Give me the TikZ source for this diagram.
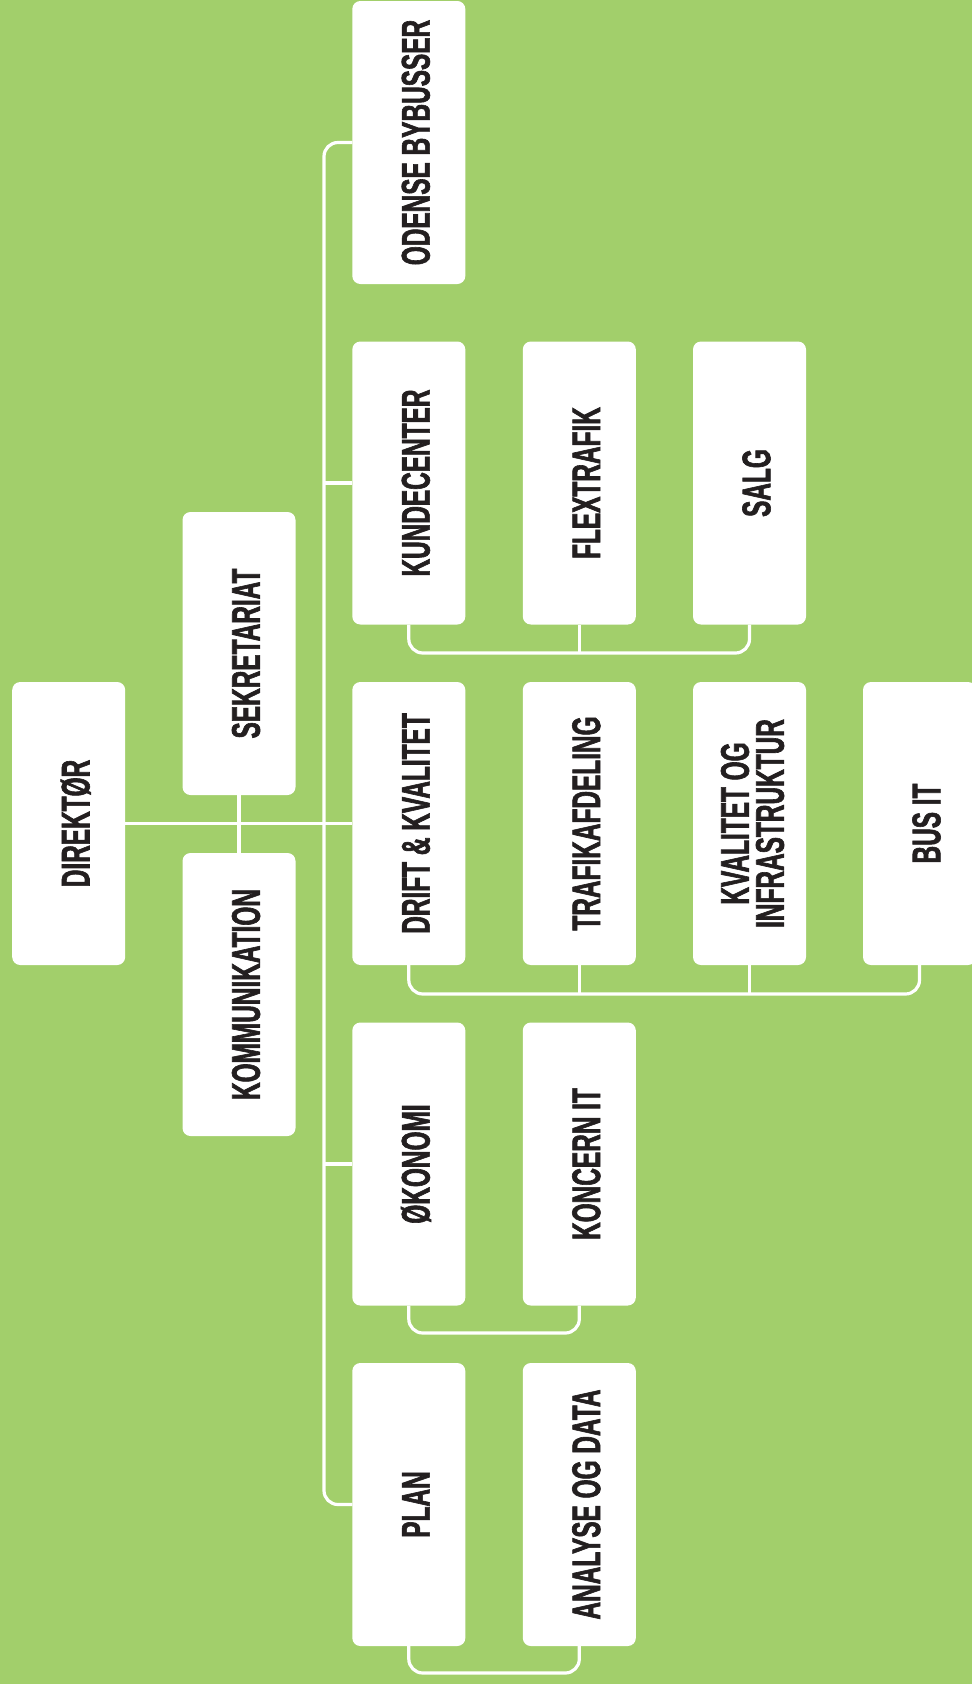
\documentclass[tikz,border=0pt]{standalone}
\usepackage{fontspec}
\setmainfont{Liberation Sans}
\newfontfamily\condfont[FakeStretch=0.61,FakeBold=1.5]{Liberation Sans}
\usetikzlibrary{calc}
\definecolor{bggreen}{RGB}{162,207,107}
\definecolor{ink}{RGB}{35,31,32}
\begin{document}
\begin{tikzpicture}[x=1pt,y=-1pt,
  box/.style={fill=white, rounded corners=8pt, minimum width=113pt, minimum height=283pt, inner sep=0pt, outer sep=0pt},
  lbl/.style={rotate=90, text=ink, font=\condfont\bfseries\fontsize{40}{35}\selectfont, inner sep=0pt, text height=28.6pt, text depth=0pt},
  lbltwo/.style={rotate=90, text=ink, font=\condfont\bfseries\fontsize{40}{35}\selectfont, inner sep=0pt, align=center},
  conn/.style={draw=white, line width=3.2pt, rounded corners=14pt}]
\useasboundingbox (0,0) rectangle (972,1684);
\clip (0,0) rectangle (972,1684);
\fill[bggreen] (0,0) rectangle (972,1684);

% boxes
\node[box] (dir) at (68.7,823.5) {};
\node[box] (sek) at (239,653.5) {};
\node[box] (kom) at (239,994.5) {};
\node[box] (odense) at (408.8,142.5) {};
\node[box] (kunde) at (408.8,483) {};
\node[box] (flex) at (579.3,483) {};
\node[box] (salg) at (749.5,483) {};
\node[box] (drift) at (408.8,823.5) {};
\node[box] (trafik) at (579.3,823.5) {};
\node[box] (kval) at (749.5,823.5) {};
\node[box] (busit) at (919.5,823.5) {};
\node[box] (oek) at (408.8,1164) {};
\node[box] (koncern) at (579.3,1164) {};
\node[box] (plan) at (408.8,1504.5) {};
\node[box] (analyse) at (579.3,1504.5) {};

% labels
\node[lbl] (dir-t) at ([xshift=6.5pt]dir.center) {DIREKTØR};
\node[lbl] (sek-t) at ([xshift=6.5pt]sek.center) {SEKRETARIAT};
\node[lbl] (kom-t) at ([xshift=6.5pt]kom.center) {KOMMUNIKATION};
\node[lbl] (odense-t) at ([xshift=6.5pt]odense.center) {ODENSE BYBUSSER};
\node[lbl] (kunde-t) at ([xshift=6.5pt]kunde.center) {KUNDECENTER};
\node[lbl] (flex-t) at ([xshift=6.5pt]flex.center) {FLEXTRAFIK};
\node[lbl] (salg-t) at ([xshift=6.5pt]salg.center) {SALG};
\node[lbl] (drift-t) at ([xshift=6.5pt]drift.center) {DRIFT \& KVALITET};
\node[lbl] (trafik-t) at ([xshift=6.5pt]trafik.center) {TRAFIKAFDELING};
\node[lbltwo] (kval-t) at ([xshift=3pt]kval.center) {KVALITET OG\\INFRASTRUKTUR};
\node[lbl] (busit-t) at ([xshift=6.5pt]busit.center) {BUS IT};
\node[lbl] (oek-t) at ([xshift=6.5pt]oek.center) {ØKONOMI};
\node[lbl] (koncern-t) at ([xshift=6.5pt]koncern.center) {KONCERN IT};
\node[lbl] (plan-t) at ([xshift=6.5pt]plan.center) {PLAN};
\node[lbl] (analyse-t) at ([xshift=6.5pt]analyse.center) {ANALYSE OG DATA};

% helper coordinates
\coordinate (tk) at (324,0);
\coordinate (b2) at (0,653);
\coordinate (b3) at (0,994);
\coordinate (b4) at (0,1333);
\coordinate (b5) at (0,1673);

% connectors
\draw[conn] (dir.east) -- (drift.west);
\draw[conn] (sek.south) -- (kom.north);
\draw[conn] (odense.west) -- (odense.west -| tk) -- (plan.west -| tk) -- (plan.west);
\draw[conn] (kunde.west -| tk) -- (kunde.west);
\draw[conn] (oek.west -| tk) -- (oek.west);

\draw[conn] (kunde.south) -- (kunde.south |- b2) -- (salg.south |- b2) -- (salg.south);
\draw[conn] (flex.south) -- (flex.south |- b2);

\draw[conn] (drift.south) -- (drift.south |- b3) -- (busit.south |- b3) -- (busit.south);
\draw[conn] (trafik.south) -- (trafik.south |- b3);
\draw[conn] (kval.south) -- (kval.south |- b3);

\draw[conn] (oek.south) -- (oek.south |- b4) -- (koncern.south |- b4) -- (koncern.south);
\draw[conn] (plan.south) -- (plan.south |- b5) -- (analyse.south |- b5) -- (analyse.south);
\end{tikzpicture}
\end{document}
